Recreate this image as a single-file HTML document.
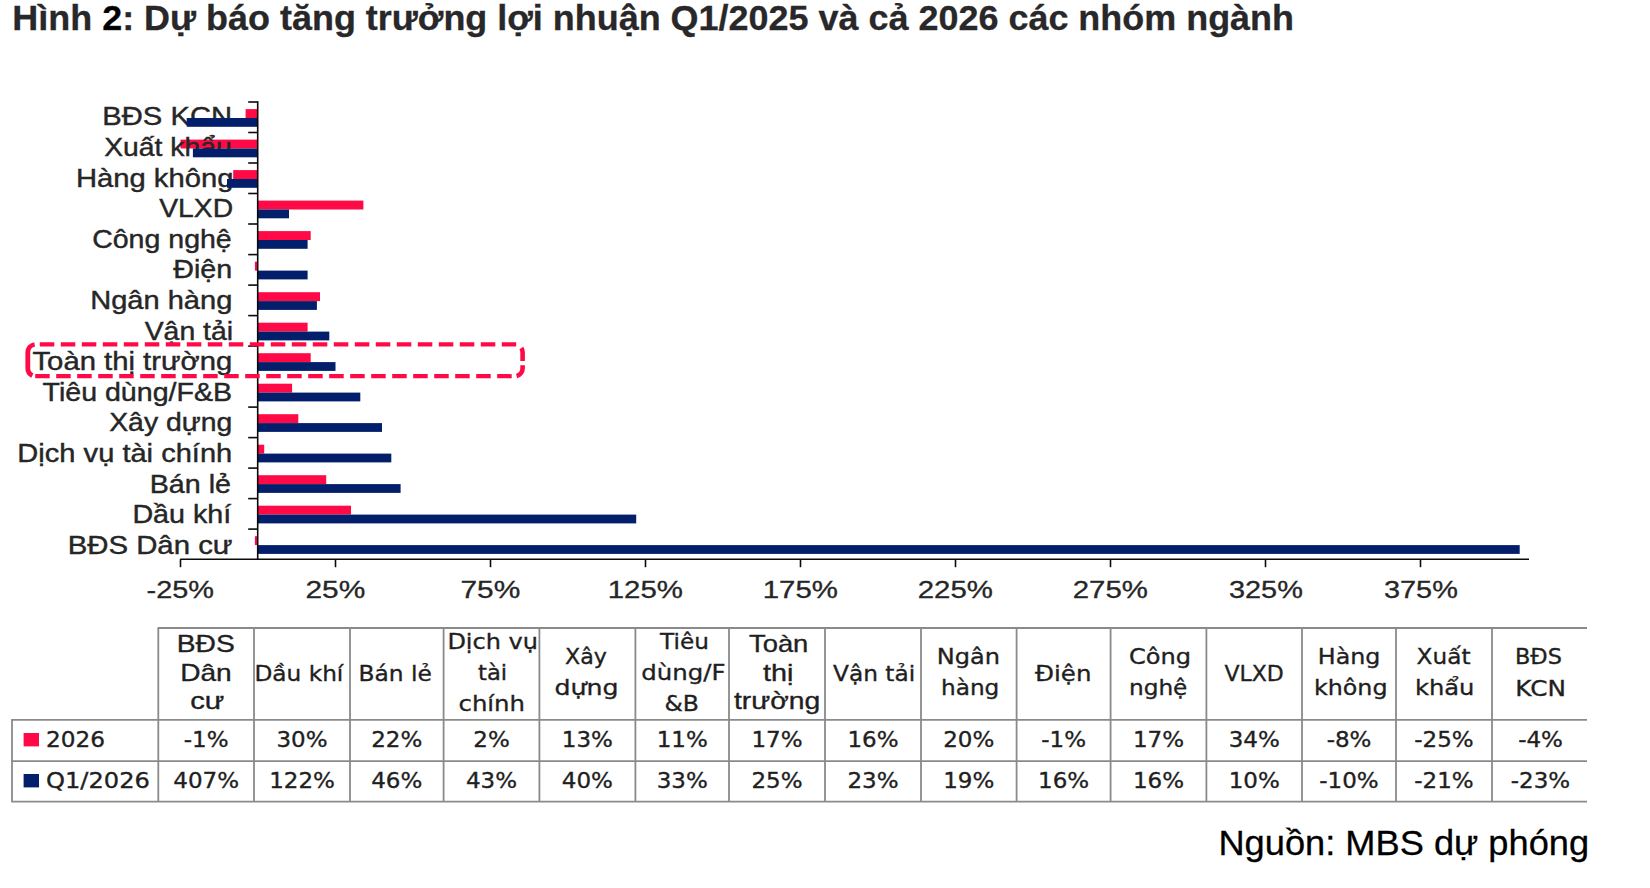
<!DOCTYPE html>
<html lang="vi"><head><meta charset="utf-8"><title>Hình 2: Dự báo tăng trưởng lợi nhuận</title>
<style>html,body{margin:0;padding:0;background:#fff}body{width:1650px;height:888px;overflow:hidden}svg{display:block}text{white-space:pre}</style>
</head><body>
<svg width="1650" height="888" viewBox="0 0 1650 888">
<rect width="1650" height="888" fill="#fff"/>
<g id="bars-2026">
<rect x="245.6" y="109.1" width="12.4" height="8.9" fill="#ff0a46"/>
<rect x="180.5" y="139.6" width="77.5" height="8.9" fill="#ff0a46"/>
<rect x="233.2" y="170.1" width="24.8" height="8.9" fill="#ff0a46"/>
<rect x="258.0" y="200.6" width="105.4" height="8.9" fill="#ff0a46"/>
<rect x="258.0" y="231.1" width="52.7" height="8.9" fill="#ff0a46"/>
<rect x="254.9" y="261.7" width="3.1" height="8.9" fill="#ff0a46"/>
<rect x="258.0" y="292.2" width="62.0" height="8.9" fill="#ff0a46"/>
<rect x="258.0" y="322.7" width="49.6" height="8.9" fill="#ff0a46"/>
<rect x="258.0" y="353.2" width="52.7" height="8.9" fill="#ff0a46"/>
<rect x="258.0" y="383.7" width="34.1" height="8.9" fill="#ff0a46"/>
<rect x="258.0" y="414.2" width="40.3" height="8.9" fill="#ff0a46"/>
<rect x="258.0" y="444.7" width="6.2" height="8.9" fill="#ff0a46"/>
<rect x="258.0" y="475.2" width="68.2" height="8.9" fill="#ff0a46"/>
<rect x="258.0" y="505.7" width="93.0" height="8.9" fill="#ff0a46"/>
<rect x="254.9" y="536.2" width="3.1" height="8.9" fill="#ff0a46"/>
</g>
<g id="cat-labels">
<text transform="translate(102.36 125.30) scale(1.1718 1)" font-family='"Liberation Sans", sans-serif' font-size="24.9" fill="#262626" stroke="#262626" stroke-width="0.4">BĐS KCN</text>
<text transform="translate(104.20 155.90) scale(1.1380 1)" font-family='"Liberation Sans", sans-serif' font-size="24.9" fill="#262626" stroke="#262626" stroke-width="0.4">Xuất khẩu</text>
<text transform="translate(75.95 186.50) scale(1.1736 1)" font-family='"Liberation Sans", sans-serif' font-size="24.9" fill="#262626" stroke="#262626" stroke-width="0.4">Hàng không</text>
<text transform="translate(159.20 217.10) scale(1.1367 1)" font-family='"Liberation Sans", sans-serif' font-size="24.9" fill="#262626" stroke="#262626" stroke-width="0.4">VLXD</text>
<text transform="translate(92.15 247.70) scale(1.1463 1)" font-family='"Liberation Sans", sans-serif' font-size="24.9" fill="#262626" stroke="#262626" stroke-width="0.4">Công nghệ</text>
<text transform="translate(173.30 278.30) scale(1.1520 1)" font-family='"Liberation Sans", sans-serif' font-size="24.9" fill="#262626" stroke="#262626" stroke-width="0.4">Điện</text>
<text transform="translate(90.17 308.90) scale(1.1669 1)" font-family='"Liberation Sans", sans-serif' font-size="24.9" fill="#262626" stroke="#262626" stroke-width="0.4">Ngân hàng</text>
<text transform="translate(144.70 339.50) scale(1.1400 1)" font-family='"Liberation Sans", sans-serif' font-size="24.9" fill="#262626" stroke="#262626" stroke-width="0.4">Vận tải</text>
<text transform="translate(32.50 370.10) scale(1.1755 1)" font-family='"Liberation Sans", sans-serif' font-size="24.9" fill="#262626" stroke="#262626" stroke-width="0.4">Toàn thị trường</text>
<text transform="translate(42.50 400.70) scale(1.1477 1)" font-family='"Liberation Sans", sans-serif' font-size="24.9" fill="#262626" stroke="#262626" stroke-width="0.4">Tiêu dùng/F&amp;B</text>
<text transform="translate(109.20 431.30) scale(1.1395 1)" font-family='"Liberation Sans", sans-serif' font-size="24.9" fill="#262626" stroke="#262626" stroke-width="0.4">Xây dựng</text>
<text transform="translate(17.36 461.90) scale(1.1680 1)" font-family='"Liberation Sans", sans-serif' font-size="24.9" fill="#262626" stroke="#262626" stroke-width="0.4">Dịch vụ tài chính</text>
<text transform="translate(149.70 492.50) scale(1.1516 1)" font-family='"Liberation Sans", sans-serif' font-size="24.9" fill="#262626" stroke="#262626" stroke-width="0.4">Bán lẻ</text>
<text transform="translate(132.40 523.10) scale(1.1519 1)" font-family='"Liberation Sans", sans-serif' font-size="24.9" fill="#262626" stroke="#262626" stroke-width="0.4">Dầu khí</text>
<text transform="translate(67.64 553.70) scale(1.1793 1)" font-family='"Liberation Sans", sans-serif' font-size="24.9" fill="#262626" stroke="#262626" stroke-width="0.4">BĐS Dân cư</text>
</g>
<g id="bars-q1">
<rect x="186.7" y="118.0" width="71.3" height="8.8" fill="#031f6b"/>
<rect x="192.9" y="148.5" width="65.1" height="8.8" fill="#031f6b"/>
<rect x="227.0" y="179.0" width="31.0" height="8.8" fill="#031f6b"/>
<rect x="258.0" y="209.5" width="31.0" height="8.8" fill="#031f6b"/>
<rect x="258.0" y="240.0" width="49.6" height="8.8" fill="#031f6b"/>
<rect x="258.0" y="270.6" width="49.6" height="8.8" fill="#031f6b"/>
<rect x="258.0" y="301.1" width="58.9" height="8.8" fill="#031f6b"/>
<rect x="258.0" y="331.6" width="71.3" height="8.8" fill="#031f6b"/>
<rect x="258.0" y="362.1" width="77.5" height="8.8" fill="#031f6b"/>
<rect x="258.0" y="392.6" width="102.3" height="8.8" fill="#031f6b"/>
<rect x="258.0" y="423.1" width="124.0" height="8.8" fill="#031f6b"/>
<rect x="258.0" y="453.6" width="133.3" height="8.8" fill="#031f6b"/>
<rect x="258.0" y="484.1" width="142.6" height="8.8" fill="#031f6b"/>
<rect x="258.0" y="514.6" width="378.2" height="8.8" fill="#031f6b"/>
<rect x="258.0" y="545.1" width="1261.7" height="8.8" fill="#031f6b"/>
</g>
<g id="axes" stroke="#0a0a0a" stroke-width="1.6" fill="none">
<line x1="257.7" y1="101.2" x2="257.7" y2="559.2"/>
<line x1="248.2" y1="102.0" x2="257.7" y2="102.0"/>
<line x1="248.2" y1="132.5" x2="257.7" y2="132.5"/>
<line x1="248.2" y1="163.0" x2="257.7" y2="163.0"/>
<line x1="248.2" y1="193.5" x2="257.7" y2="193.5"/>
<line x1="248.2" y1="224.0" x2="257.7" y2="224.0"/>
<line x1="248.2" y1="254.6" x2="257.7" y2="254.6"/>
<line x1="248.2" y1="285.1" x2="257.7" y2="285.1"/>
<line x1="248.2" y1="315.6" x2="257.7" y2="315.6"/>
<line x1="248.2" y1="346.1" x2="257.7" y2="346.1"/>
<line x1="248.2" y1="376.6" x2="257.7" y2="376.6"/>
<line x1="248.2" y1="407.1" x2="257.7" y2="407.1"/>
<line x1="248.2" y1="437.6" x2="257.7" y2="437.6"/>
<line x1="248.2" y1="468.1" x2="257.7" y2="468.1"/>
<line x1="248.2" y1="498.6" x2="257.7" y2="498.6"/>
<line x1="248.2" y1="529.1" x2="257.7" y2="529.1"/>
<line x1="180.2" y1="559.2" x2="1529" y2="559.2"/>
<line x1="180.5" y1="559.2" x2="180.5" y2="567.2"/>
<line x1="335.5" y1="559.2" x2="335.5" y2="567.2"/>
<line x1="490.5" y1="559.2" x2="490.5" y2="567.2"/>
<line x1="645.5" y1="559.2" x2="645.5" y2="567.2"/>
<line x1="800.5" y1="559.2" x2="800.5" y2="567.2"/>
<line x1="955.5" y1="559.2" x2="955.5" y2="567.2"/>
<line x1="1110.5" y1="559.2" x2="1110.5" y2="567.2"/>
<line x1="1265.5" y1="559.2" x2="1265.5" y2="567.2"/>
<line x1="1420.5" y1="559.2" x2="1420.5" y2="567.2"/>
</g>
<g id="highlight" fill="none" stroke="#ff0a46" stroke-width="4.2">
<path d="M39.8 344.3H516.2" stroke-dasharray="14.5 6.5"/>
<path d="M35.2 376.2H512" stroke-dasharray="14.5 6.5"/>
<path d="M521.4 348A8 8 0 0 1 522.6 352.3V361" stroke-width="4.6"/>
<path d="M522.6 365.2V368.2A8 8 0 0 1 516.6 376" stroke-width="4.6"/>
<path d="M34.6 344.5A8 8 0 0 0 27.8 352.4V368.2A8 8 0 0 0 32.4 375.5" stroke-width="4.8"/>
</g>
<g id="grid" stroke="#8a8a8a" stroke-width="1.8" fill="none">
<line x1="157.55" y1="628" x2="1587" y2="628"/>
<line x1="11.25" y1="719.8" x2="1587" y2="719.8"/>
<line x1="11.25" y1="761.1" x2="1587" y2="761.1"/>
<line x1="11.25" y1="801.6" x2="1587" y2="801.6"/>
<line x1="12" y1="719.8" x2="12" y2="801.6"/>
<line x1="158.3" y1="628" x2="158.3" y2="801.6"/>
<line x1="254" y1="628" x2="254" y2="801.6"/>
<line x1="350" y1="628" x2="350" y2="801.6"/>
<line x1="443.6" y1="628" x2="443.6" y2="801.6"/>
<line x1="539.4" y1="628" x2="539.4" y2="801.6"/>
<line x1="635.4" y1="628" x2="635.4" y2="801.6"/>
<line x1="729" y1="628" x2="729" y2="801.6"/>
<line x1="825" y1="628" x2="825" y2="801.6"/>
<line x1="921" y1="628" x2="921" y2="801.6"/>
<line x1="1016.6" y1="628" x2="1016.6" y2="801.6"/>
<line x1="1110.6" y1="628" x2="1110.6" y2="801.6"/>
<line x1="1206.4" y1="628" x2="1206.4" y2="801.6"/>
<line x1="1302" y1="628" x2="1302" y2="801.6"/>
<line x1="1396" y1="628" x2="1396" y2="801.6"/>
<line x1="1492" y1="628" x2="1492" y2="801.6"/>
</g>
<rect x="23.6" y="733" width="15.4" height="13.4" fill="#ff0a46"/>
<rect x="23.6" y="774" width="15.4" height="13.4" fill="#031f6b"/>
<g id="texts">
<text transform="translate(146.61 597.50) scale(1.2398 1)" font-family='"Liberation Sans", sans-serif' font-size="23.3" fill="#262626" stroke="#262626" stroke-width="0.3">-25%</text>
<text transform="translate(305.42 597.50) scale(1.2825 1)" font-family='"Liberation Sans", sans-serif' font-size="23.3" fill="#262626" stroke="#262626" stroke-width="0.3">25%</text>
<text transform="translate(460.42 597.50) scale(1.2825 1)" font-family='"Liberation Sans", sans-serif' font-size="23.3" fill="#262626" stroke="#262626" stroke-width="0.3">75%</text>
<text transform="translate(607.74 597.50) scale(1.2615 1)" font-family='"Liberation Sans", sans-serif' font-size="23.3" fill="#262626" stroke="#262626" stroke-width="0.3">125%</text>
<text transform="translate(762.74 597.50) scale(1.2615 1)" font-family='"Liberation Sans", sans-serif' font-size="23.3" fill="#262626" stroke="#262626" stroke-width="0.3">175%</text>
<text transform="translate(917.74 597.50) scale(1.2615 1)" font-family='"Liberation Sans", sans-serif' font-size="23.3" fill="#262626" stroke="#262626" stroke-width="0.3">225%</text>
<text transform="translate(1072.74 597.50) scale(1.2615 1)" font-family='"Liberation Sans", sans-serif' font-size="23.3" fill="#262626" stroke="#262626" stroke-width="0.3">275%</text>
<text transform="translate(1229.00 597.50) scale(1.2400 1)" font-family='"Liberation Sans", sans-serif' font-size="23.3" fill="#262626" stroke="#262626" stroke-width="0.3">325%</text>
<text transform="translate(1384.00 597.50) scale(1.2400 1)" font-family='"Liberation Sans", sans-serif' font-size="23.3" fill="#262626" stroke="#262626" stroke-width="0.3">375%</text>
<text transform="translate(176.77 652.00) scale(1.2274 1)" font-family='"Liberation Sans", sans-serif' font-size="23.0" fill="#1f1f1f" stroke="#1f1f1f" stroke-width="0.35">BĐS</text>
<text transform="translate(180.18 681.00) scale(1.2227 1)" font-family='"Liberation Sans", sans-serif' font-size="23.0" fill="#1f1f1f" stroke="#1f1f1f" stroke-width="0.35">Dân</text>
<text transform="translate(190.20 709.40) scale(1.2679 1)" font-family='"Liberation Sans", sans-serif' font-size="23.0" fill="#1f1f1f" stroke="#1f1f1f" stroke-width="0.35">cư</text>
<text transform="translate(254.47 680.60) scale(1.0666 1)" font-family='"DejaVu Sans", "Liberation Sans", sans-serif' font-size="21.8" fill="#1f1f1f" stroke="#1f1f1f" stroke-width="0.35">Dầu khí</text>
<text transform="translate(358.46 680.60) scale(1.0710 1)" font-family='"DejaVu Sans", "Liberation Sans", sans-serif' font-size="21.8" fill="#1f1f1f" stroke="#1f1f1f" stroke-width="0.35">Bán lẻ</text>
<text transform="translate(447.40 649.40) scale(1.1011 1)" font-family='"DejaVu Sans", "Liberation Sans", sans-serif' font-size="21.8" fill="#1f1f1f" stroke="#1f1f1f" stroke-width="0.35">Dịch vụ</text>
<text transform="translate(478.00 680.00) scale(1.0408 1)" font-family='"DejaVu Sans", "Liberation Sans", sans-serif' font-size="21.8" fill="#1f1f1f" stroke="#1f1f1f" stroke-width="0.35">tài</text>
<text transform="translate(458.48 711.00) scale(1.1188 1)" font-family='"DejaVu Sans", "Liberation Sans", sans-serif' font-size="21.8" fill="#1f1f1f" stroke="#1f1f1f" stroke-width="0.35">chính</text>
<text transform="translate(565.00 664.40) scale(1.0172 1)" font-family='"DejaVu Sans", "Liberation Sans", sans-serif' font-size="21.8" fill="#1f1f1f" stroke="#1f1f1f" stroke-width="0.35">Xây</text>
<text transform="translate(554.44 694.80) scale(1.1589 1)" font-family='"DejaVu Sans", "Liberation Sans", sans-serif' font-size="21.8" fill="#1f1f1f" stroke="#1f1f1f" stroke-width="0.35">dựng</text>
<text transform="translate(660.06 649.40) scale(1.0641 1)" font-family='"DejaVu Sans", "Liberation Sans", sans-serif' font-size="21.8" fill="#1f1f1f" stroke="#1f1f1f" stroke-width="0.35">Tiêu</text>
<text transform="translate(641.28 680.00) scale(1.1216 1)" font-family='"DejaVu Sans", "Liberation Sans", sans-serif' font-size="21.8" fill="#1f1f1f" stroke="#1f1f1f" stroke-width="0.35">dùng/F</text>
<text transform="translate(664.52 711.00) scale(1.0801 1)" font-family='"DejaVu Sans", "Liberation Sans", sans-serif' font-size="21.8" fill="#1f1f1f" stroke="#1f1f1f" stroke-width="0.35">&amp;B</text>
<text transform="translate(749.00 652.00) scale(1.1898 1)" font-family='"Liberation Sans", sans-serif' font-size="23.0" fill="#1f1f1f" stroke="#1f1f1f" stroke-width="0.35">Toàn</text>
<text transform="translate(763.00 681.00) scale(1.2510 1)" font-family='"Liberation Sans", sans-serif' font-size="23.0" fill="#1f1f1f" stroke="#1f1f1f" stroke-width="0.35">thị</text>
<text transform="translate(734.00 709.40) scale(1.2320 1)" font-family='"Liberation Sans", sans-serif' font-size="23.0" fill="#1f1f1f" stroke="#1f1f1f" stroke-width="0.35">trường</text>
<text transform="translate(833.00 680.60) scale(1.0670 1)" font-family='"DejaVu Sans", "Liberation Sans", sans-serif' font-size="21.8" fill="#1f1f1f" stroke="#1f1f1f" stroke-width="0.35">Vận tải</text>
<text transform="translate(936.79 664.40) scale(1.1028 1)" font-family='"DejaVu Sans", "Liberation Sans", sans-serif' font-size="21.8" fill="#1f1f1f" stroke="#1f1f1f" stroke-width="0.35">Ngân</text>
<text transform="translate(940.93 695.20) scale(1.0657 1)" font-family='"DejaVu Sans", "Liberation Sans", sans-serif' font-size="21.8" fill="#1f1f1f" stroke="#1f1f1f" stroke-width="0.35">hàng</text>
<text transform="translate(1035.00 680.60) scale(1.1250 1)" font-family='"DejaVu Sans", "Liberation Sans", sans-serif' font-size="21.8" fill="#1f1f1f" stroke="#1f1f1f" stroke-width="0.35">Điện</text>
<text transform="translate(1128.89 664.40) scale(1.1055 1)" font-family='"DejaVu Sans", "Liberation Sans", sans-serif' font-size="21.8" fill="#1f1f1f" stroke="#1f1f1f" stroke-width="0.35">Công</text>
<text transform="translate(1128.93 694.80) scale(1.0661 1)" font-family='"DejaVu Sans", "Liberation Sans", sans-serif' font-size="21.8" fill="#1f1f1f" stroke="#1f1f1f" stroke-width="0.35">nghệ</text>
<text transform="translate(1224.40 680.60) scale(1.0106 1)" font-family='"DejaVu Sans", "Liberation Sans", sans-serif' font-size="21.8" fill="#1f1f1f" stroke="#1f1f1f" stroke-width="0.35">VLXD</text>
<text transform="translate(1317.82 664.40) scale(1.0903 1)" font-family='"DejaVu Sans", "Liberation Sans", sans-serif' font-size="21.8" fill="#1f1f1f" stroke="#1f1f1f" stroke-width="0.35">Hàng</text>
<text transform="translate(1313.91 695.20) scale(1.0931 1)" font-family='"DejaVu Sans", "Liberation Sans", sans-serif' font-size="21.8" fill="#1f1f1f" stroke="#1f1f1f" stroke-width="0.35">không</text>
<text transform="translate(1416.60 664.40) scale(1.0645 1)" font-family='"DejaVu Sans", "Liberation Sans", sans-serif' font-size="21.8" fill="#1f1f1f" stroke="#1f1f1f" stroke-width="0.35">Xuất</text>
<text transform="translate(1414.89 694.80) scale(1.1104 1)" font-family='"DejaVu Sans", "Liberation Sans", sans-serif' font-size="21.8" fill="#1f1f1f" stroke="#1f1f1f" stroke-width="0.35">khẩu</text>
<text transform="translate(1514.95 664.40) scale(1.0270 1)" font-family='"DejaVu Sans", "Liberation Sans", sans-serif' font-size="21.8" fill="#1f1f1f" stroke="#1f1f1f" stroke-width="0.35">BĐS</text>
<text transform="translate(1515.33 695.60) scale(1.1326 1)" font-family='"DejaVu Sans", "Liberation Sans", sans-serif' font-size="21.8" fill="#1f1f1f" stroke="#1f1f1f" stroke-width="0.35">KCN</text>
<text transform="translate(45.94 746.80) scale(1.0634 1)" font-family='"DejaVu Sans", "Liberation Sans", sans-serif' font-size="21.8" fill="#1f1f1f" stroke="#1f1f1f" stroke-width="0.35">2026</text>
<text transform="translate(45.89 788.00) scale(1.1090 1)" font-family='"DejaVu Sans", "Liberation Sans", sans-serif' font-size="21.8" fill="#1f1f1f" stroke="#1f1f1f" stroke-width="0.35">Q1/2026</text>
<text transform="translate(12.28 30.40) scale(1.0102 1)" font-family='"Liberation Sans", sans-serif' font-size="35.6" font-weight="700" fill="#28282a" stroke="#28282a" stroke-width="0.3">Hình <tspan fill="#000">2</tspan>: Dự báo tăng trưởng lợi nhuận Q1/2025 và cả 2026 các nhóm ngành</text>
<text transform="translate(1218.46 854.50) scale(1.0180 1)" font-family='"Liberation Sans", sans-serif' font-size="35.6" fill="#000" stroke="#000" stroke-width="0.3">Nguồn: MBS dự phóng</text>
<text transform="translate(206.15 747.00) scale(1.055 1)" text-anchor="middle" font-family='"DejaVu Sans", "Liberation Sans", sans-serif' font-size="21.8" fill="#1f1f1f" stroke="#1f1f1f" stroke-width="0.35">-1%</text>
<text transform="translate(206.15 788.00) scale(1.055 1)" text-anchor="middle" font-family='"DejaVu Sans", "Liberation Sans", sans-serif' font-size="21.8" fill="#1f1f1f" stroke="#1f1f1f" stroke-width="0.35">407%</text>
<text transform="translate(302.00 747.00) scale(1.055 1)" text-anchor="middle" font-family='"DejaVu Sans", "Liberation Sans", sans-serif' font-size="21.8" fill="#1f1f1f" stroke="#1f1f1f" stroke-width="0.35">30%</text>
<text transform="translate(302.00 788.00) scale(1.055 1)" text-anchor="middle" font-family='"DejaVu Sans", "Liberation Sans", sans-serif' font-size="21.8" fill="#1f1f1f" stroke="#1f1f1f" stroke-width="0.35">122%</text>
<text transform="translate(396.80 747.00) scale(1.055 1)" text-anchor="middle" font-family='"DejaVu Sans", "Liberation Sans", sans-serif' font-size="21.8" fill="#1f1f1f" stroke="#1f1f1f" stroke-width="0.35">22%</text>
<text transform="translate(396.80 788.00) scale(1.055 1)" text-anchor="middle" font-family='"DejaVu Sans", "Liberation Sans", sans-serif' font-size="21.8" fill="#1f1f1f" stroke="#1f1f1f" stroke-width="0.35">46%</text>
<text transform="translate(491.50 747.00) scale(1.055 1)" text-anchor="middle" font-family='"DejaVu Sans", "Liberation Sans", sans-serif' font-size="21.8" fill="#1f1f1f" stroke="#1f1f1f" stroke-width="0.35">2%</text>
<text transform="translate(491.50 788.00) scale(1.055 1)" text-anchor="middle" font-family='"DejaVu Sans", "Liberation Sans", sans-serif' font-size="21.8" fill="#1f1f1f" stroke="#1f1f1f" stroke-width="0.35">43%</text>
<text transform="translate(587.40 747.00) scale(1.055 1)" text-anchor="middle" font-family='"DejaVu Sans", "Liberation Sans", sans-serif' font-size="21.8" fill="#1f1f1f" stroke="#1f1f1f" stroke-width="0.35">13%</text>
<text transform="translate(587.40 788.00) scale(1.055 1)" text-anchor="middle" font-family='"DejaVu Sans", "Liberation Sans", sans-serif' font-size="21.8" fill="#1f1f1f" stroke="#1f1f1f" stroke-width="0.35">40%</text>
<text transform="translate(682.20 747.00) scale(1.055 1)" text-anchor="middle" font-family='"DejaVu Sans", "Liberation Sans", sans-serif' font-size="21.8" fill="#1f1f1f" stroke="#1f1f1f" stroke-width="0.35">11%</text>
<text transform="translate(682.20 788.00) scale(1.055 1)" text-anchor="middle" font-family='"DejaVu Sans", "Liberation Sans", sans-serif' font-size="21.8" fill="#1f1f1f" stroke="#1f1f1f" stroke-width="0.35">33%</text>
<text transform="translate(777.00 747.00) scale(1.055 1)" text-anchor="middle" font-family='"DejaVu Sans", "Liberation Sans", sans-serif' font-size="21.8" fill="#1f1f1f" stroke="#1f1f1f" stroke-width="0.35">17%</text>
<text transform="translate(777.00 788.00) scale(1.055 1)" text-anchor="middle" font-family='"DejaVu Sans", "Liberation Sans", sans-serif' font-size="21.8" fill="#1f1f1f" stroke="#1f1f1f" stroke-width="0.35">25%</text>
<text transform="translate(873.00 747.00) scale(1.055 1)" text-anchor="middle" font-family='"DejaVu Sans", "Liberation Sans", sans-serif' font-size="21.8" fill="#1f1f1f" stroke="#1f1f1f" stroke-width="0.35">16%</text>
<text transform="translate(873.00 788.00) scale(1.055 1)" text-anchor="middle" font-family='"DejaVu Sans", "Liberation Sans", sans-serif' font-size="21.8" fill="#1f1f1f" stroke="#1f1f1f" stroke-width="0.35">23%</text>
<text transform="translate(968.80 747.00) scale(1.055 1)" text-anchor="middle" font-family='"DejaVu Sans", "Liberation Sans", sans-serif' font-size="21.8" fill="#1f1f1f" stroke="#1f1f1f" stroke-width="0.35">20%</text>
<text transform="translate(968.80 788.00) scale(1.055 1)" text-anchor="middle" font-family='"DejaVu Sans", "Liberation Sans", sans-serif' font-size="21.8" fill="#1f1f1f" stroke="#1f1f1f" stroke-width="0.35">19%</text>
<text transform="translate(1063.60 747.00) scale(1.055 1)" text-anchor="middle" font-family='"DejaVu Sans", "Liberation Sans", sans-serif' font-size="21.8" fill="#1f1f1f" stroke="#1f1f1f" stroke-width="0.35">-1%</text>
<text transform="translate(1063.60 788.00) scale(1.055 1)" text-anchor="middle" font-family='"DejaVu Sans", "Liberation Sans", sans-serif' font-size="21.8" fill="#1f1f1f" stroke="#1f1f1f" stroke-width="0.35">16%</text>
<text transform="translate(1158.50 747.00) scale(1.055 1)" text-anchor="middle" font-family='"DejaVu Sans", "Liberation Sans", sans-serif' font-size="21.8" fill="#1f1f1f" stroke="#1f1f1f" stroke-width="0.35">17%</text>
<text transform="translate(1158.50 788.00) scale(1.055 1)" text-anchor="middle" font-family='"DejaVu Sans", "Liberation Sans", sans-serif' font-size="21.8" fill="#1f1f1f" stroke="#1f1f1f" stroke-width="0.35">16%</text>
<text transform="translate(1254.20 747.00) scale(1.055 1)" text-anchor="middle" font-family='"DejaVu Sans", "Liberation Sans", sans-serif' font-size="21.8" fill="#1f1f1f" stroke="#1f1f1f" stroke-width="0.35">34%</text>
<text transform="translate(1254.20 788.00) scale(1.055 1)" text-anchor="middle" font-family='"DejaVu Sans", "Liberation Sans", sans-serif' font-size="21.8" fill="#1f1f1f" stroke="#1f1f1f" stroke-width="0.35">10%</text>
<text transform="translate(1349.00 747.00) scale(1.055 1)" text-anchor="middle" font-family='"DejaVu Sans", "Liberation Sans", sans-serif' font-size="21.8" fill="#1f1f1f" stroke="#1f1f1f" stroke-width="0.35">-8%</text>
<text transform="translate(1349.00 788.00) scale(1.055 1)" text-anchor="middle" font-family='"DejaVu Sans", "Liberation Sans", sans-serif' font-size="21.8" fill="#1f1f1f" stroke="#1f1f1f" stroke-width="0.35">-10%</text>
<text transform="translate(1444.00 747.00) scale(1.055 1)" text-anchor="middle" font-family='"DejaVu Sans", "Liberation Sans", sans-serif' font-size="21.8" fill="#1f1f1f" stroke="#1f1f1f" stroke-width="0.35">-25%</text>
<text transform="translate(1444.00 788.00) scale(1.055 1)" text-anchor="middle" font-family='"DejaVu Sans", "Liberation Sans", sans-serif' font-size="21.8" fill="#1f1f1f" stroke="#1f1f1f" stroke-width="0.35">-21%</text>
<text transform="translate(1540.50 747.00) scale(1.055 1)" text-anchor="middle" font-family='"DejaVu Sans", "Liberation Sans", sans-serif' font-size="21.8" fill="#1f1f1f" stroke="#1f1f1f" stroke-width="0.35">-4%</text>
<text transform="translate(1540.50 788.00) scale(1.055 1)" text-anchor="middle" font-family='"DejaVu Sans", "Liberation Sans", sans-serif' font-size="21.8" fill="#1f1f1f" stroke="#1f1f1f" stroke-width="0.35">-23%</text>
</g>
</svg></body></html>
